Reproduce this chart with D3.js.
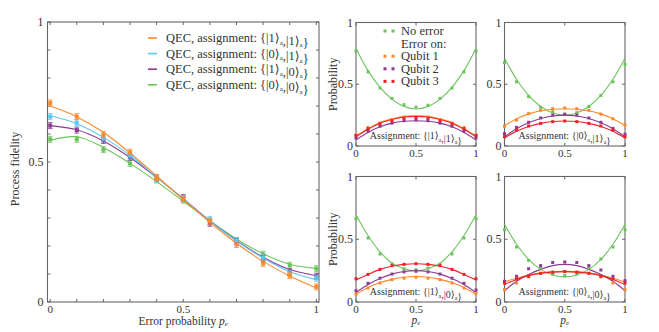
<!DOCTYPE html>
<html><head><meta charset="utf-8">
<script src="https://cdn.jsdelivr.net/npm/d3@7"></script>
<style>
html,body{margin:0;padding:0;background:#fff;}
svg{display:block;}
text{font-family:"Liberation Serif","Times New Roman","DejaVu Serif",serif;fill:#333;}
</style></head>
<body>
<svg id="chart" width="659" height="332" font-family="Liberation Serif, Times New Roman, DejaVu Serif, serif"></svg>
<script>
// ---------- data ----------
const errorProb = [0,0.1,0.2,0.3,0.4,0.5,0.6,0.7,0.8,0.9,1];

// left panel: process fidelity per assignment (measured points)
const fid11 = [0.711,0.662,0.598,0.535,0.445,0.368,0.288,0.205,0.138,0.094,0.054];
const fid01 = [0.662,0.640,0.586,0.525,0.439,0.370,0.295,0.219,0.158,0.102,0.085];
const fid10 = [0.630,0.614,0.577,0.517,0.443,0.373,0.281,0.217,0.156,0.108,0.092];
const fid00 = [0.581,0.581,0.544,0.495,0.436,0.364,0.288,0.220,0.170,0.131,0.119];
// left panel: fitted curves
const fit11 = [0.700,0.662,0.606,0.532,0.450,0.366,0.285,0.210,0.145,0.093,0.050];
const fit01 = [0.665,0.637,0.588,0.524,0.446,0.368,0.290,0.218,0.157,0.108,0.080];
const fit10 = [0.630,0.615,0.575,0.516,0.445,0.369,0.290,0.220,0.160,0.116,0.094];
const fit00 = [0.578,0.590,0.552,0.495,0.430,0.360,0.290,0.225,0.172,0.135,0.120];
const fidLabels = ["QEC, assignment: {|1⟩_a,|1⟩_a}","QEC, assignment: {|0⟩_a,|1⟩_a}",
                   "QEC, assignment: {|1⟩_a,|0⟩_a}","QEC, assignment: {|0⟩_a,|0⟩_a}"];

// right panels: outcome probabilities
const noErrA = [0.77,0.60,0.47,0.385,0.335,0.315,0.33,0.385,0.47,0.60,0.77];
const q1A    = [0.09,0.15,0.185,0.215,0.235,0.24,0.235,0.215,0.185,0.15,0.09];
const q2A    = [0.065,0.12,0.16,0.185,0.205,0.21,0.205,0.185,0.16,0.12,0.065];
const q3A    = [0.085,0.14,0.18,0.205,0.225,0.23,0.225,0.205,0.18,0.14,0.085];
const noErrFitA = [0.79,0.61,0.475,0.38,0.32,0.30,0.32,0.38,0.475,0.61,0.79];
const q1FitA = [0.08,0.14,0.19,0.22,0.24,0.245,0.24,0.22,0.19,0.14,0.08];
const q2FitA = [0.05,0.11,0.155,0.185,0.2,0.205,0.2,0.185,0.155,0.11,0.05];
const q3FitA = [0.075,0.135,0.185,0.215,0.235,0.24,0.235,0.215,0.185,0.135,0.075];

const noErrB = [0.675,0.52,0.40,0.313,0.278,0.259,0.27,0.32,0.41,0.52,0.66];
const q1B    = [0.16,0.21,0.262,0.289,0.302,0.308,0.302,0.289,0.258,0.22,0.17];
const q2B    = [0.10,0.151,0.192,0.227,0.25,0.256,0.25,0.227,0.192,0.143,0.095];
const q3B    = [0.075,0.13,0.162,0.183,0.197,0.202,0.197,0.183,0.162,0.13,0.075];
const noErrFitB = [0.71,0.54,0.41,0.32,0.268,0.25,0.268,0.32,0.41,0.54,0.71];
const q1FitB = [0.165,0.22,0.26,0.285,0.298,0.302,0.298,0.285,0.26,0.22,0.165];
const q2FitB = [0.075,0.14,0.188,0.222,0.243,0.25,0.243,0.222,0.188,0.14,0.075];
const q3FitB = [0.065,0.12,0.158,0.183,0.198,0.203,0.198,0.183,0.158,0.12,0.065];

const noErrC = [0.664,0.51,0.382,0.305,0.265,0.257,0.27,0.30,0.382,0.51,0.664];
const q1C    = [0.064,0.112,0.151,0.178,0.19,0.198,0.19,0.178,0.151,0.112,0.07];
const q2C    = [0.09,0.149,0.19,0.223,0.24,0.245,0.24,0.223,0.19,0.149,0.095];
const q3C    = [0.185,0.22,0.26,0.29,0.30,0.305,0.30,0.29,0.26,0.22,0.185];
const noErrFitC = [0.696,0.53,0.40,0.31,0.265,0.25,0.265,0.31,0.40,0.53,0.696];
const q1FitC = [0.06,0.115,0.155,0.18,0.197,0.203,0.197,0.18,0.155,0.115,0.06];
const q2FitC = [0.075,0.14,0.188,0.222,0.243,0.25,0.243,0.222,0.188,0.14,0.075];
const q3FitC = [0.175,0.22,0.26,0.285,0.30,0.305,0.30,0.285,0.26,0.22,0.175];

const noErrD = [0.576,0.438,0.332,0.271,0.223,0.21,0.223,0.271,0.343,0.438,0.576];
const q1D    = [0.098,0.151,0.2,0.228,0.238,0.243,0.238,0.228,0.2,0.151,0.098];
const q2D    = [0.165,0.205,0.265,0.29,0.315,0.319,0.315,0.29,0.255,0.205,0.17];
const q3D    = [0.151,0.183,0.205,0.229,0.237,0.242,0.237,0.229,0.205,0.183,0.151];
const noErrFitD = [0.62,0.46,0.34,0.26,0.215,0.20,0.215,0.26,0.34,0.46,0.62];
const q1FitD = [0.16,0.19,0.215,0.232,0.242,0.245,0.242,0.232,0.215,0.19,0.16];
const q2FitD = [0.09,0.165,0.22,0.26,0.29,0.30,0.29,0.26,0.22,0.165,0.09];
const q3FitD = [0.14,0.18,0.21,0.228,0.238,0.242,0.238,0.228,0.21,0.18,0.14];

const assignLabels = ["Assignment: {|1⟩_a,|1⟩_a}","Assignment: {|0⟩_a,|1⟩_a}",
                      "Assignment: {|1⟩_a,|0⟩_a}","Assignment: {|0⟩_a,|0⟩_a}"];
const probLegend = ["No error","Error on:","Qubit 1","Qubit 2","Qubit 3"];
const tickLabelsMain = [0,0.5,1];

// ---------- styling ----------
const C = {orange:"#fb8a2c", cyan:"#5cc8f2", purple:"#8c3a94", green:"#6cc35c", red:"#ea2328", frame:"#666"};
const FONT = "Liberation Serif, Times New Roman, DejaVu Serif, serif";
const svg = d3.select("#chart");

function richText(sel, str, subSize){
  const parts = str.split("_a");
  parts.forEach((p,i)=>{
    sel.append("tspan").text(p);
    if(i<parts.length-1){
      sel.append("tspan").attr("font-size",subSize).attr("dy",2.5).text("a");
      sel.append("tspan").attr("dy",-2.5).text("");
    }
  });
}

function frame(g, x0,x1,y0,y1){
  g.append("rect").attr("x",x0).attr("y",y0).attr("width",x1-x0).attr("height",y1-y0)
   .attr("fill","none").attr("stroke",C.frame).attr("stroke-width",1.1);
}

// ---------- left panel ----------
(function(){
  const L=47.5, R=319, T=22, B=302;
  const x = d3.scaleLinear().domain([-0.01,1.01]).range([L,R]);
  const y = d3.scaleLinear().domain([0,1]).range([B,T]);
  const g = svg.append("g").attr("font-family",FONT);
  frame(g,L,R,T,B);
  const ticks = d3.range(0,1.0001,0.1);
  const tl = 3;
  ticks.forEach(t=>{
    g.append("line").attr("x1",x(t)).attr("x2",x(t)).attr("y1",B).attr("y2",B-tl).attr("stroke",C.frame);
    g.append("line").attr("x1",x(t)).attr("x2",x(t)).attr("y1",T).attr("y2",T+tl).attr("stroke",C.frame);
    g.append("line").attr("y1",y(t)).attr("y2",y(t)).attr("x1",L).attr("x2",L+tl).attr("stroke",C.frame);
    g.append("line").attr("y1",y(t)).attr("y2",y(t)).attr("x1",R).attr("x2",R-tl).attr("stroke",C.frame);
  });
  tickLabelsMain.forEach(t=>{
    g.append("text").attr("x",x(t)).attr("y",B+10.5).attr("text-anchor","middle").attr("font-size",11).text(t);
    g.append("text").attr("x",L-4).attr("y",y(t)+4).attr("text-anchor","end").attr("font-size",12).text(t);
  });
  const xl = g.append("text").attr("x",(x(0)+x(1))/2).attr("y",324.5).attr("text-anchor","middle").attr("font-size",11.5);
  xl.append("tspan").text("Error probability ");
  xl.append("tspan").attr("font-style","italic").text("p");
  xl.append("tspan").attr("font-size",7).attr("font-style","italic").attr("dy",1.5).text("e");
  g.append("text").attr("transform","translate(19,169) rotate(-90)").attr("text-anchor","middle").attr("font-size",12).text("Process fidelity");

  const series = [[fid11,fit11,C.orange],[fid01,fit01,C.cyan],[fid10,fit10,C.purple],[fid00,fit00,C.green]];
  const line = d3.line().x((d,i)=>x(errorProb[i])).y(d=>y(d)).curve(d3.curveCatmullRom.alpha(0.5));
  series.slice().reverse().forEach(([pts,fit,col])=>{
    g.append("path").attr("d",line(fit)).attr("fill","none").attr("stroke",col).attr("stroke-width",1.1);
  });
  series.slice().reverse().forEach(([pts,fit,col])=>{
    pts.forEach((v,i)=>{
      const cx=x(errorProb[i]), cy=y(v);
      g.append("line").attr("x1",cx).attr("x2",cx).attr("y1",cy-3).attr("y2",cy+3).attr("stroke",col).attr("stroke-width",1);
      g.append("line").attr("x1",cx-2.5).attr("x2",cx+2.5).attr("y1",cy-3).attr("y2",cy-3).attr("stroke",col).attr("stroke-width",0.8);
      g.append("line").attr("x1",cx-2.5).attr("x2",cx+2.5).attr("y1",cy+3).attr("y2",cy+3).attr("stroke",col).attr("stroke-width",0.8);
      g.append("rect").attr("x",cx-2).attr("y",cy-2).attr("width",4).attr("height",4).attr("fill",col);
    });
  });
  // legend
  series.forEach(([pts,fit,col],i)=>{
    const ly = 38 + i*15.6;
    g.append("line").attr("x1",148).attr("x2",157).attr("y1",ly).attr("y2",ly).attr("stroke",col).attr("stroke-width",1.6);
    const t = g.append("text").attr("x",166).attr("y",ly+4).attr("font-size",12.5);
    richText(t, fidLabels[i], 7);
  });
})();

// ---------- right panels ----------
const panels = [
  {x0:356, x1:476, y0:22.5, y1:146, label:assignLabels[0], data:[noErrA,q1A,q2A,q3A], fits:[noErrFitA,q1FitA,q2FitA,q3FitA], ylab:true, xlab:false, legend:true},
  {x0:504.5, x1:625, y0:22.5, y1:146, label:assignLabels[1], data:[noErrB,q1B,q2B,q3B], fits:[noErrFitB,q1FitB,q2FitB,q3FitB], ylab:false, xlab:false, legend:false},
  {x0:356, x1:476, y0:176.5, y1:302, label:assignLabels[2], data:[noErrC,q1C,q2C,q3C], fits:[noErrFitC,q1FitC,q2FitC,q3FitC], ylab:true, xlab:true, legend:false},
  {x0:504.5, x1:625, y0:176.5, y1:302, label:assignLabels[3], data:[noErrD,q1D,q2D,q3D], fits:[noErrFitD,q1FitD,q2FitD,q3FitD], ylab:false, xlab:true, legend:false}
];
const seriesColors = [C.green, C.orange, C.purple, C.red];

panels.forEach(p=>{
  const g = svg.append("g").attr("font-family",FONT);
  const x = d3.scaleLinear().domain([0,1]).range([p.x0,p.x1]);
  const y = d3.scaleLinear().domain([0,1]).range([p.y1,p.y0]);
  frame(g,p.x0,p.x1,p.y0,p.y1);
  tickLabelsMain.forEach(t=>{
    g.append("line").attr("x1",x(t)).attr("x2",x(t)).attr("y1",p.y1).attr("y2",p.y1-3).attr("stroke",C.frame);
    g.append("line").attr("x1",x(t)).attr("x2",x(t)).attr("y1",p.y0).attr("y2",p.y0+3).attr("stroke",C.frame);
    g.append("line").attr("y1",y(t)).attr("y2",y(t)).attr("x1",p.x0).attr("x2",p.x0+3).attr("stroke",C.frame);
    g.append("line").attr("y1",y(t)).attr("y2",y(t)).attr("x1",p.x1).attr("x2",p.x1-3).attr("stroke",C.frame);
    g.append("text").attr("x",x(t)).attr("y",p.y1+10.5).attr("text-anchor","middle").attr("font-size",11).text(t);
    g.append("text").attr("x",p.x0-3).attr("y",y(t)+4).attr("text-anchor","end").attr("font-size",12).text(t);
  });
  if(p.ylab){
    g.append("text").attr("transform",`translate(337,${(p.y0+p.y1)/2}) rotate(-90)`).attr("text-anchor","middle").attr("font-size",12).text("Probability");
  }
  if(p.xlab){
    const t = g.append("text").attr("x",(p.x0+p.x1)/2).attr("y",323.5).attr("text-anchor","middle").attr("font-size",11.5).attr("font-style","italic");
    t.append("tspan").text("p");
    t.append("tspan").attr("font-size",7).attr("dy",1.5).text("e");
  }
  const line = d3.line().x((d,i)=>x(errorProb[i])).y(d=>y(d)).curve(d3.curveCatmullRom.alpha(0.5));
  p.fits.forEach((f,k)=>{
    g.append("path").attr("d",line(f)).attr("fill","none").attr("stroke",seriesColors[k]).attr("stroke-width",1.1);
  });
  p.data.forEach((arr,k)=>{
    arr.forEach((v,i)=>{
      g.append("rect").attr("x",x(errorProb[i])-1.5).attr("y",y(v)-1.5).attr("width",3).attr("height",3).attr("fill",seriesColors[k]);
    });
  });
  const at = g.append("text").attr("x",(p.x0+p.x1)/2).attr("y",p.y1-7).attr("text-anchor","middle").attr("font-size",10).attr("fill","#444");
  richText(at, p.label, 6);
  if(p.legend){
    const rows = [[probLegend[0],C.green],[probLegend[1],null],[probLegend[2],C.orange],[probLegend[3],C.purple],[probLegend[4],C.red]];
    rows.forEach(([lab,col],i)=>{
      const ly = 31 + i*12.6;
      if(col){
        [385,393].forEach(dx=>g.append("rect").attr("x",dx-1.5).attr("y",ly-1.5).attr("width",3).attr("height",3).attr("fill",col));
      }
      g.append("text").attr("x",401).attr("y",ly+4).attr("font-size",12.5).text(lab);
    });
  }
});
</script>
</body></html>
